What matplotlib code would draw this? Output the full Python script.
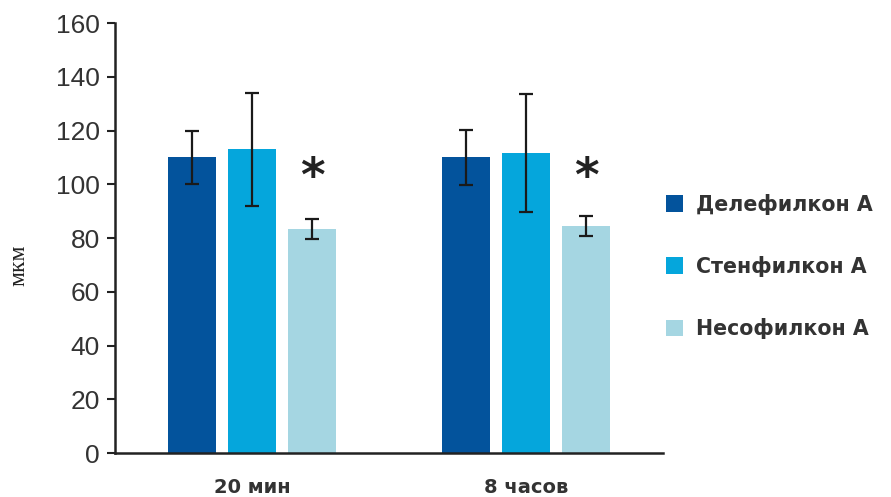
import numpy as np
import matplotlib.pyplot as plt
from matplotlib.patches import Patch

# data
groups = ["20 мин", "8 часов"]
series = ["Делефилкон А", "Стенфилкон А", "Несофилкон А"]
delefilcon = [110, 110]
delefilcon_err = [10, 10.3]
senofilcon = [113, 111.5]
senofilcon_err = [21, 22]
nesofilcon = [83.5, 84.5]
nesofilcon_err = [3.7, 3.8]
star_y = [102, 102]

colors = ["#03539c", "#05a6dc", "#a5d6e2"]
values = [delefilcon, senofilcon, nesofilcon]
errors = [delefilcon_err, senofilcon_err, nesofilcon_err]

fig = plt.figure(figsize=(8.91, 4.97), dpi=100)
ax = fig.add_axes([0.129, 0.0885, 0.615, 0.8652])

x = np.arange(len(groups))
w = 0.175
step = 0.219
for i in range(3):
    ax.bar(x + (i - 1) * step, values[i], width=w, color=colors[i],
           yerr=errors[i], capsize=5,
           error_kw=dict(ecolor="#1a1a1a", elinewidth=1.6, capthick=1.6))

for j in range(len(groups)):
    ax.text(x[j] + step, star_y[j], "*", ha="center", va="center",
            fontsize=34, fontweight="bold", color="#222222",
            family="DejaVu Sans")

ax.set_xlim(-0.5, 1.5)
ax.set_ylim(0, 160)
ax.set_yticks(range(0, 161, 20))
ax.set_xticks(x)
ax.set_xticklabels(groups, fontsize=14, fontweight="bold", color="#333333",
                   family="DejaVu Sans")
ax.tick_params(axis="x", length=0, pad=18)
ax.tick_params(axis="y", direction="out", length=6, width=1.5,
               color="#222222", labelsize=19, labelcolor="#333333", pad=5)
for lab in ax.get_yticklabels():
    lab.set_family("Liberation Sans")

for s in ["top", "right"]:
    ax.spines[s].set_visible(False)
for s in ["left", "bottom"]:
    ax.spines[s].set_linewidth(1.8)
    ax.spines[s].set_color("#222222")

fig.text(0.021, 0.467, "мкм", rotation=90, ha="center", va="center",
         fontsize=17, family="Liberation Serif", color="#222222")

handles = [Patch(facecolor=c, edgecolor="none") for c in colors]
leg = fig.legend(handles, series, loc="upper left",
                 bbox_to_anchor=(0.738, 0.627), frameon=False,
                 handlelength=0.85, handleheight=0.85, handletextpad=0.6,
                 labelspacing=2.0, borderaxespad=0,
                 prop=dict(family="DejaVu Sans", weight="bold", size=14.8))
for t in leg.get_texts():
    t.set_color("#333333")

fig.savefig("out.png", dpi=100)
